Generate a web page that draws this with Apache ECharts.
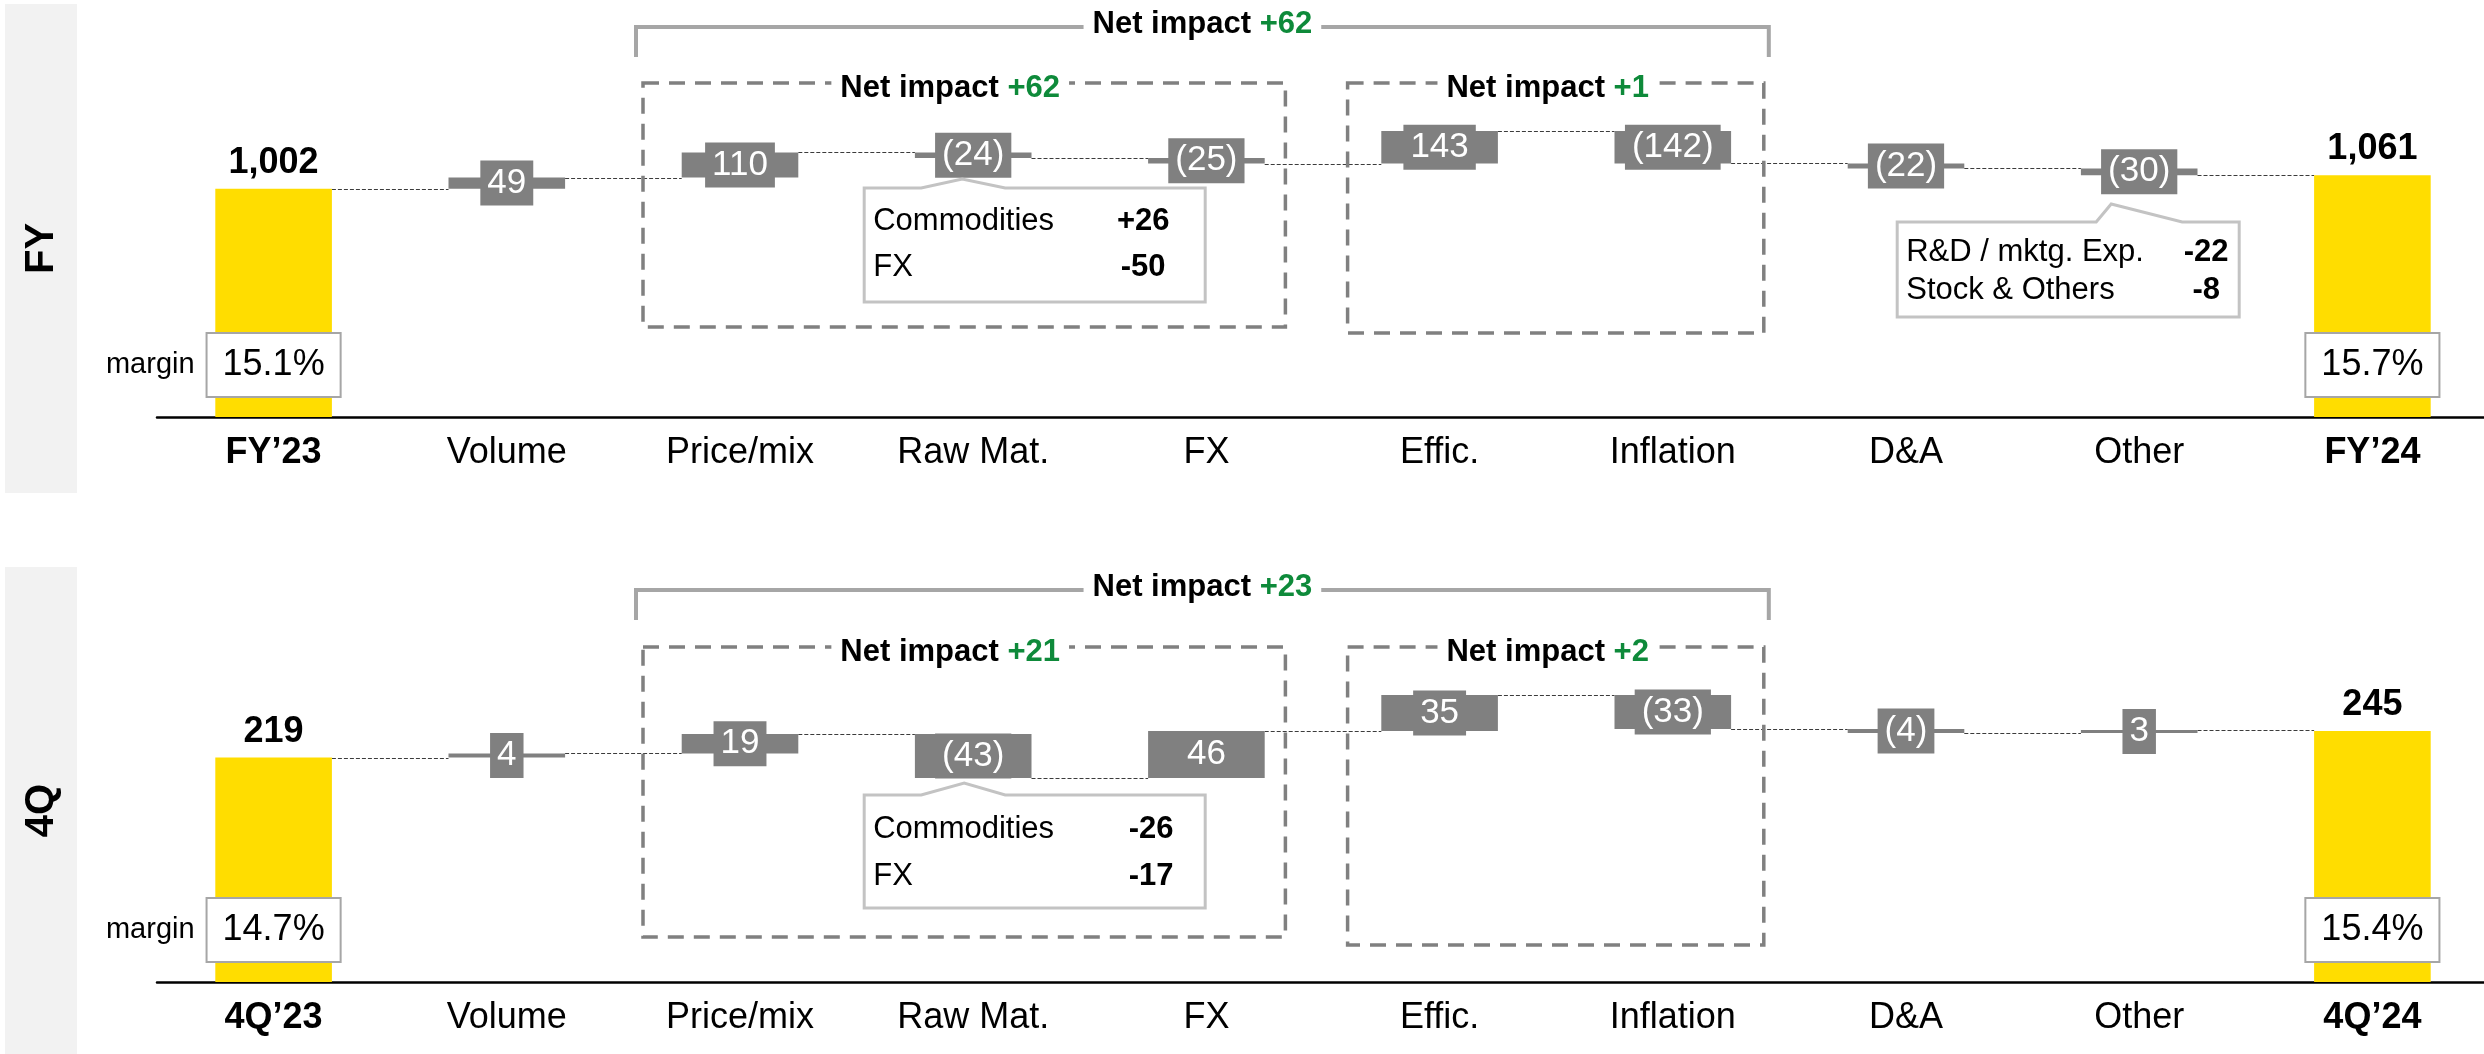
<!DOCTYPE html>
<html>
<head>
<meta charset="utf-8">
<title>Adjusted EBITDA bridge</title>
<script src="https://cdn.jsdelivr.net/npm/echarts@6/dist/echarts.min.js"></script>
<style>
  html, body { margin: 0; padding: 0; background: #ffffff; }
  #chart { width: 2484px; height: 1054px; }
</style>
</head>
<body>
<div id="chart"></div>
<script>
// ---------- data ----------
const fyCategories = ['FY’23', 'Volume', 'Price/mix', 'Raw Mat.', 'FX', 'Effic.', 'Inflation', 'D&A', 'Other', 'FY’24'];
const q4Categories = ['4Q’23', 'Volume', 'Price/mix', 'Raw Mat.', 'FX', 'Effic.', 'Inflation', 'D&A', 'Other', '4Q’24'];

const fyStart = 1002;
const fyDeltas = [49, 110, -24, -25, 143, -142, -22, -30];
const fyEnd = 1061;
const fyMargins = ['15.1%', '15.7%'];

const q4Start = 219;
const q4Deltas = [4, 19, -43, 46, 35, -33, -4, 3];
const q4End = 245;
const q4Margins = ['14.7%', '15.4%'];

// net impact: [whole bracket, price group, cost group]
const fyNetImpacts = ['+62', '+62', '+1'];
const q4NetImpacts = ['+23', '+21', '+2'];

const rawMatLabels = ['Commodities', 'FX'];
const fyRawMatValues = ['+26', '-50'];
const q4RawMatValues = ['-26', '-17'];
const otherLabels = ['R&D / mktg. Exp.', 'Stock & Others'];
const fyOtherValues = ['-22', '-8'];

const panelTitles = ['FY', '4Q'];

// ---------- styling ----------
const FONT = '"Liberation Sans", Arial, Helvetica, sans-serif';
const YELLOW = '#FFDD00';
const GRAY = '#808080';
const GREEN = '#0E8A3A';

function fmtDelta(d) { return d < 0 ? '(' + Math.abs(d) + ')' : String(d); }
function fmtTotal(v) { return String(v).replace(/\B(?=(\d{3})+(?!\d))/g, ','); }

// stacked waterfall pieces: invisible base, gray step, yellow totals
function waterfall(start, deltas, end) {
  const base = [0], step = ['-'], total = [start], levels = [start];
  let run = start;
  deltas.forEach(d => {
    const next = run + d;
    base.push(Math.min(run, next));
    step.push(Math.abs(d));
    total.push('-');
    run = next;
    levels.push(run);
  });
  base.push(0); step.push('-'); total.push(end);
  return { base, step, total, levels };
}

const panels = [
  { cats: fyCategories, deltas: fyDeltas, wf: waterfall(fyStart, fyDeltas, fyEnd), margins: fyMargins,
    grid: { top: 0, height: 417 }, yMax: 1830 },
  { cats: q4Categories, deltas: q4Deltas, wf: waterfall(q4Start, q4Deltas, q4End), margins: q4Margins,
    grid: { top: 567, height: 415 }, yMax: 405 }
];

const grids = [], xAxes = [], yAxes = [], series = [];

panels.forEach((p, g) => {
  grids.push({ left: 157, width: 2332, top: p.grid.top, height: p.grid.height,
    containLabel: false, outerBoundsMode: 'none' });
  const last = p.cats.length - 1;
  xAxes.push({
    type: 'category', gridIndex: g, data: p.cats,
    axisTick: { show: false },
    axisLine: { show: true, lineStyle: { color: '#000', width: 2.5 } },
    axisLabel: {
      interval: 0, margin: 18, fontSize: 36, lineHeight: 36, color: '#000', fontFamily: FONT,
      formatter: (v, i) => (i === 0 || i === last) ? '{b|' + v + '}' : v,
      rich: { b: { fontWeight: 'bold', fontSize: 36, lineHeight: 36, fontFamily: FONT, color: '#000' } }
    },
    splitLine: { show: false }
  });
  yAxes.push({ type: 'value', gridIndex: g, min: 0, max: p.yMax, show: false, splitLine: { show: false } });

  const stack = 'wf' + g;
  series.push({
    type: 'bar', xAxisIndex: g, yAxisIndex: g, stack, barWidth: '50%', silent: true,
    data: p.wf.base, itemStyle: { color: 'rgba(0,0,0,0)' }, label: { show: false }, z: 2
  });
  series.push({
    type: 'bar', xAxisIndex: g, yAxisIndex: g, stack, barWidth: '50%', silent: true,
    data: p.wf.step, itemStyle: { color: GRAY },
    label: {
      show: true, position: 'inside', formatter: prm => fmtDelta(p.deltas[prm.dataIndex - 1]),
      color: '#ffffff', fontSize: 35, lineHeight: 35, fontFamily: FONT,
      backgroundColor: GRAY, padding: [5, 7]
    }, z: 4
  });
  series.push({
    type: 'bar', xAxisIndex: g, yAxisIndex: g, stack, barWidth: '50%', silent: true,
    data: p.wf.total, itemStyle: { color: YELLOW },
    label: {
      show: true, position: 'top', distance: 8, formatter: prm => fmtTotal(prm.value),
      color: '#000', fontWeight: 'bold', fontSize: 36, lineHeight: 36, fontFamily: FONT
    }, z: 3
  });

  // dashed connectors between consecutive bars
  series.push({
    type: 'custom', xAxisIndex: g, yAxisIndex: g, silent: true, z: 3,
    data: p.wf.levels.map((lv, i) => [i, lv]),
    renderItem: (params, api) => {
      const i = api.value(0), lv = api.value(1);
      const a = api.coord([i, lv]), b = api.coord([i + 1, lv]);
      const half = api.size([1, 0])[0] * 0.25;
      const y = Math.round(a[1]) + 0.5;
      return { type: 'line', shape: { x1: a[0] + half, y1: y, x2: b[0] - half, y2: y },
        style: { stroke: '#3c3c3c', lineWidth: 1.2, lineDash: [4, 2] } };
    }
  });

  // margin boxes under the start / end bars
  series.push({
    type: 'custom', xAxisIndex: g, yAxisIndex: g, silent: true, z: 6,
    data: [[0, 0], [last, 0]],
    renderItem: (params, api) => {
      const c = api.coord([api.value(0), 0]);
      const y = c[1] - 52;
      const children = [{
        type: 'text', x: c[0], y: y,
        style: { text: p.margins[params.dataIndex], fontSize: 36, lineHeight: 36, fontFamily: FONT, fill: '#000',
          align: 'center', verticalAlign: 'middle', backgroundColor: '#ffffff',
          borderColor: '#A6A6A6', borderWidth: 2, padding: [13, 15] }
      }];
      if (params.dataIndex === 0) {
        children.push({ type: 'text', x: c[0] - 79, y: y,
          style: { text: 'margin', fontSize: 29, fontFamily: FONT, fill: '#000', align: 'right', verticalAlign: 'middle' } });
      }
      return { type: 'group', children };
    }
  });
});

const chart = echarts.init(document.getElementById('chart'), null, { renderer: 'canvas', width: 2484, height: 1054 });
chart.setOption({
  animation: false,
  backgroundColor: '#ffffff',
  textStyle: { fontFamily: FONT },
  grid: grids, xAxis: xAxes, yAxis: yAxes, series
});

// ---------- annotations (brackets, grouping boxes, callouts) ----------
const cx = (g, i) => chart.convertToPixel({ gridIndex: g }, [i, 0])[0];

function txt(x, y, text, opt) {
  return Object.assign({ type: 'text', x, y, z: 20,
    style: Object.assign({ text, fontFamily: FONT, fill: '#000', align: 'center', verticalAlign: 'middle',
      textAlign: 'center', textVerticalAlign: 'middle' }, opt || {}) });
}

function netText(x, y, value) {
  return txt(x, y, '{k|Net impact }{g|' + value + '}', {
    backgroundColor: '#ffffff', padding: [0, 9],
    rich: {
      k: { fontSize: 31, fontWeight: 'bold', fontFamily: FONT, fill: '#000', color: '#000' },
      g: { fontSize: 31, fontWeight: 'bold', fontFamily: FONT, fill: GREEN, color: GREEN }
    }
  });
}

function bracket(L, R, y, drop, value) {
  return [
    { type: 'polyline', z: 10, shape: { points: [[L, drop], [L, y], [R, y], [R, drop]] },
      style: { stroke: '#A6A6A6', lineWidth: 4, fill: null } },
    netText((L + R) / 2, y - 3, value)
  ];
}

function dashedBox(L, R, T, B, value, textShift) {
  return [
    { type: 'rect', z: 10, shape: { x: L, y: T, width: R - L, height: B - T },
      style: { fill: null, stroke: GRAY, lineWidth: 3.5, lineDash: [16, 10] } },
    netText((L + R) / 2 + textShift, T + 5, value)
  ];
}

function callout(L, R, T, B, ax, ay, nl, nr, labels, values, rows, valueX) {
  const els = [{ type: 'polygon', z: 12,
    shape: { points: [[L, T], [nl, T], [ax, ay], [nr, T], [R, T], [R, B], [L, B]] },
    style: { fill: '#ffffff', stroke: '#C3C3C3', lineWidth: 3 } }];
  labels.forEach((t, k) => {
    els.push(txt(L + 9, T + rows[k], t, { fontSize: 31, align: 'left', textAlign: 'left' }));
    els.push(txt(valueX, T + rows[k], values[k], { fontSize: 31, fontWeight: 'bold' }));
  });
  return els;
}

const graphics = [];
// side bands with panel titles
[[4, 493], [567, 1054]].forEach((b, g) => {
  graphics.push({ type: 'rect', z: 0, shape: { x: 5, y: b[0], width: 72, height: b[1] - b[0] }, style: { fill: '#F2F2F2' } });
  graphics.push(Object.assign(txt(42, (b[0] + b[1]) / 2, panelTitles[g], { fontSize: 40, fontWeight: 'bold' }), { rotation: Math.PI / 2 }));
});

// FY panel
graphics.push(...bracket(cx(0, 2) - 104, cx(0, 6) + 96, 27, 57, fyNetImpacts[0]));
graphics.push(...dashedBox(cx(0, 2) - 97, cx(0, 4) + 79, 83, 327, fyNetImpacts[1], -14));
graphics.push(...dashedBox(cx(0, 5) - 92, cx(0, 6) + 91, 83, 333, fyNetImpacts[2], -8));
{
  const c = cx(0, 3);
  graphics.push(...callout(c - 109, c + 232, 188, 302, c - 11, 179, c - 52, c + 32,
    rawMatLabels, fyRawMatValues, [33, 79], c + 170));
  const o = cx(0, 8);
  graphics.push(...callout(o - 242, o + 100, 222, 317, o - 28, 204, o - 43, o + 43,
    otherLabels, fyOtherValues, [30, 68], o + 67));
}

// 4Q panel
graphics.push(...bracket(cx(1, 2) - 104, cx(1, 6) + 96, 590, 620, q4NetImpacts[0]));
graphics.push(...dashedBox(cx(1, 2) - 97, cx(1, 4) + 79, 647, 937, q4NetImpacts[1], -14));
graphics.push(...dashedBox(cx(1, 5) - 92, cx(1, 6) + 91, 647, 945, q4NetImpacts[2], -8));
{
  const c = cx(1, 3);
  graphics.push(...callout(c - 109, c + 232, 795, 908, c - 9, 783, c - 52, c + 32,
    rawMatLabels, q4RawMatValues, [34, 81], c + 178));
}

chart.setOption({ graphic: { elements: graphics } });
</script>
</body>
</html>
